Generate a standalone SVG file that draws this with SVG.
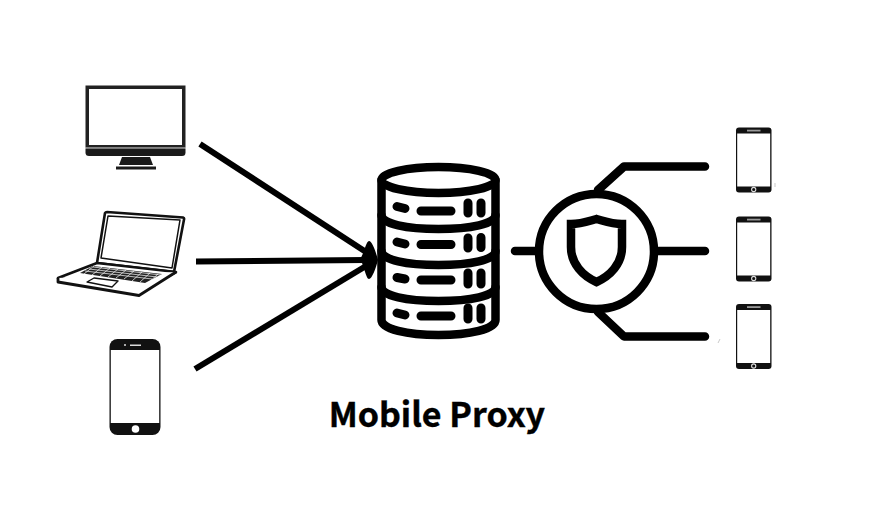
<svg xmlns="http://www.w3.org/2000/svg" width="874" height="524" viewBox="0 0 874 524">
<style>
.ln{fill:none;stroke:#000;stroke-linecap:round;stroke-linejoin:round}
.db{stroke-width:8.500}
.sym{stroke-width:8.500}
.pill{stroke-width:9}
.wire{fill:none;stroke:#000;stroke-width:6}
.dk{fill:#1a1a1a}
.ph{fill:#111}
.lap{stroke:#111;stroke-linejoin:round}
.speck{fill:none;stroke:#bbb;stroke-width:.8}
</style>
<defs>
<g id="handset">
<rect x="0" y="0" width="35.500" height="65" rx="3" class="ph"/>
<rect x="1.200" y="6" width="33" height="53" fill="#fff"/>
<rect x="11" y="2.200" width="13.500" height="1.800" fill="#999"/>
<circle cx="17.700" cy="62" r="2.100" fill="none" stroke="#ddd" stroke-width="1.100"/>
</g>
</defs>
<rect width="874" height="524" fill="#fff"/>

<g id="connectors">
<path class="wire" d="M200 144L366 252"/>
<path class="wire" d="M196 261.500L366 260"/>
<path class="wire" d="M195 369L366 266"/>
<path d="M360 259C364 254 366 241 369 241C372 241 376 252 378 260C376 268 372 279 369 279C366 279 364 265 360 259Z" fill="#000"/>
</g>

<g id="desktop">
<rect x="85.500" y="85.500" width="100" height="62" fill="#222"/>
<rect x="89" y="89" width="93" height="56" fill="#fff"/>
<rect x="85.500" y="147.500" width="100" height="1.500" fill="#777"/>
<path d="M85.500 149H185.500V152.500Q185.500 156 182 156H89Q85.500 156 85.500 152.500Z" class="dk"/>
<path d="M122 157H150L153 165H119Z" class="dk"/>
<rect x="116" y="166.500" width="40" height="3" class="dk"/>
</g>

<g id="laptop">
<path class="lap" d="M97 263L105 213Q105.500 212 107 212L183 217.500Q184.500 218 184 219.500L174 272Z" fill="#fff" stroke-width="2.600"/>
<path class="lap" d="M101 258L108 216L180 220L172 268Z" fill="#fff" stroke-width="1.500"/>
<path class="lap" d="M58 278L97 263L176 272L140 292Z" fill="#fff" stroke-width="2.600"/>
<path class="lap" d="M58 278V282L139 295.500L176 272" fill="#fff" stroke-width="2.800"/>
<path d="M80 273L93 266L162 274L145 283Z" fill="#222"/>
<path fill="none" stroke="#fff" stroke-width=".7" d="M85 271L152 279M89 269L157 277M93 267L161 275M94 266L84 274M102 267L92 275M110 268L100 276M118 269L108 277M126 270L116 278M134 271L124 279M142 272L132 281M150 273L140 282M158 274L148 283"/>
<path class="lap" d="M87 282L94 278L118 281L112 287Z" fill="#fff" stroke-width="1.400"/>
</g>

<g id="phone-left">
<rect x="109.500" y="339" width="51" height="96" rx="8" class="ph"/>
<rect x="110.800" y="350" width="48.400" height="73" fill="#fff"/>
<rect x="130" y="344.500" width="11" height="1.500" fill="#ddd"/>
<circle cx="125" cy="345" r="1" fill="#ddd"/>
<circle cx="135.500" cy="429" r="3.800" fill="#fff"/>
</g>

<g id="database">
<ellipse class="ln db" cx="438.500" cy="180" rx="57" ry="13"/>
<path class="ln db" d="M381.500 180V320C381.500 329 407 335 438.500 335C470 335 495.500 329 495.500 320V180"/>
<path class="ln db" d="M381.500 215C381.500 224 407 229 438.500 229C470 229 495.500 224 495.500 215"/>
<path class="ln db" d="M381.500 251C381.500 260 407 265 438.500 265C470 265 495.500 260 495.500 251"/>
<path class="ln db" d="M381.500 287C381.500 296 407 301 438.500 301C470 301 495.500 296 495.500 287"/>
<g id="db-rack">
<path class="ln pill" d="M397 206.500L405 208.500M421 211H451M468 203V213M481 203V213"/>
<path class="ln pill" d="M397 242L405 244M421 244.500H451M468 238V248M481 237.500V247.500"/>
<path class="ln pill" d="M397 277.500L405 279M421 280H451M468 273V284M481 273V284"/>
<path class="ln pill" d="M397 313L405 315M421 316H451M468 308V319M481 308V319"/>
</g>
</g>

<g id="shield-gateway">
<circle class="ln db" cx="596.500" cy="251.500" r="57.500"/>
<path class="ln sym" d="M515 251H537M656 251H705M598 190L624 166.500H705M598 312L624 336.500H705"/>
<path class="ln sym" style="stroke-linejoin:miter" d="M571 224C581 224 589 221 596.500 219C604 221 612 224 622 224V247C622 264 610 276 596.500 282C583 276 571 264 571 247Z"/>
</g>

<g id="phone-top"><use href="#handset" x="736" y="127.500"/></g>
<g id="phone-middle"><use href="#handset" x="736" y="216.500"/></g>
<g id="phone-bottom"><use href="#handset" x="736" y="304"/></g>

<path class="speck" d="M718 343L720 339M775 183V187"/>

<text x="436.800" y="427" text-anchor="middle" font-family="'Noto Sans CJK SC','Noto Sans',sans-serif" font-weight="700" font-size="34" fill="#000" stroke="#000" stroke-width=".4">Mobile Proxy</text>
</svg>
